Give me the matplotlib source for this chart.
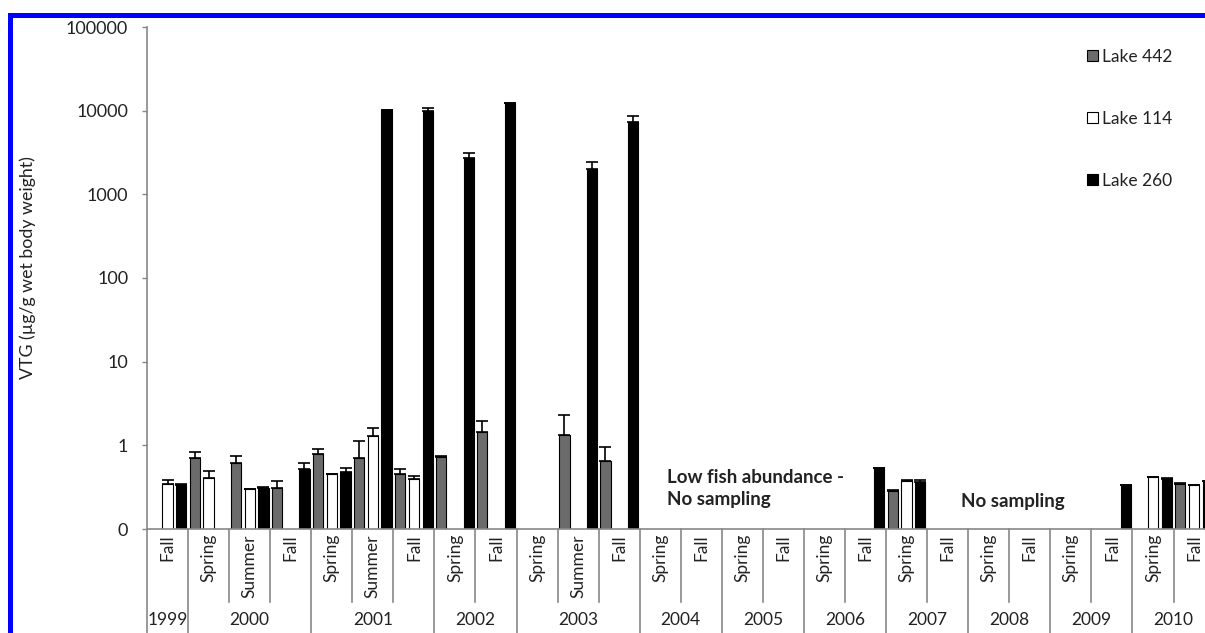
import numpy as np
import matplotlib
matplotlib.use("Agg")
import matplotlib.pyplot as plt
from matplotlib.patches import Rectangle
from matplotlib.lines import Line2D
from matplotlib.ticker import FixedLocator, FixedFormatter, NullLocator

plt.rcParams['font.family'] = ['Lato', 'DejaVu Sans']

nan = np.nan
years = ["1999", "2000", "2001", "2002", "2003", "2004", "2005",
         "2006", "2007", "2008", "2009", "2010"]
seasons_per_year = [["Fall"], ["Spring", "Summer", "Fall"], ["Spring", "Summer", "Fall"],
                    ["Spring", "Fall"], ["Spring", "Summer", "Fall"],
                    ["Spring", "Fall"], ["Spring", "Fall"], ["Spring", "Fall"],
                    ["Spring", "Fall"], ["Spring", "Fall"], ["Spring", "Fall"],
                    ["Spring", "Fall"]]
seasons = [s for grp in seasons_per_year for s in grp]

lake442 = [nan, 0.70, 0.61, 0.31, 0.79, 0.70, 0.45, 0.72, 1.45, nan, 1.33, 0.65,
           nan, nan, nan, nan, nan, nan, 0.284, nan, nan, nan, nan, nan, nan, 0.348]
lake442_err = [nan, 0.13, 0.135, 0.064, 0.11, 0.42, 0.07, 0.03, 0.50, nan, 1.0, 0.31,
               nan, nan, nan, nan, nan, nan, 0.005, nan, nan, nan, nan, nan, nan, 0.003]
lake114 = [0.345, 0.41, 0.298, nan, 0.45, 1.29, 0.40, nan, nan, nan, nan, nan,
           nan, nan, nan, nan, nan, nan, 0.377, nan, nan, nan, nan, nan, 0.415, 0.333]
lake114_err = [0.04, 0.09, 0.005, nan, 0.01, 0.33, 0.03, nan, nan, nan, nan, nan,
               nan, nan, nan, nan, nan, nan, 0.01, nan, nan, nan, nan, nan, 0.003, 0.003]
lake260 = [0.336, nan, 0.31, 0.517, 0.475, 10100, 9800, 2690, 12200, nan, 2000, 7350,
           nan, nan, nan, nan, nan, 0.53, 0.367, nan, nan, nan, nan, 0.336, 0.40, 0.374]
lake260_err = [0.01, nan, 0.005, 0.09, 0.055, 150, 1000, 390, 300, nan, 440, 1250,
               nan, nan, nan, nan, nan, 0.01, 0.015, nan, nan, nan, nan, 0.003, 0.003, 0.003]

series = [("Lake 442", lake442, lake442_err, "#6b6b6b"),
          ("Lake 114", lake114, lake114_err, "#ffffff"),
          ("Lake 260", lake260, lake260_err, "#000000")]

W, H = 1205, 633
fig = plt.figure(figsize=(W / 100, H / 100), dpi=100)
n = len(seasons)
cat_w = 41.06
ax_left, ax_bottom, ax_top = 147, 529, 27
ax = fig.add_axes([ax_left / W, (H - ax_bottom) / H, n * cat_w / W, (ax_bottom - ax_top) / H])

x = np.arange(n)
offsets = [-0.335, 0.0, 0.335]
bw = 0.25
handles = []
for (name, vals, errs, col), off in zip(series, offsets):
    v = np.array(vals, dtype=float)
    e = np.array(errs, dtype=float)
    b = ax.bar(x + off, v, width=bw, color=col, edgecolor="black", linewidth=0.8,
               label=name, zorder=2)
    handles.append(b)
    m = ~np.isnan(v)
    ax.errorbar(x[m] + off, v[m], yerr=[np.zeros(m.sum()), e[m]], fmt="none",
                ecolor="black", elinewidth=1.2, capsize=4, capthick=1.2, zorder=3)

ax.set_yscale("log")
ax.set_ylim(0.1, 100000)
ax.set_xlim(-0.5, n - 0.5)
yt = [0.1, 1, 10, 100, 1000, 10000, 100000]
ax.yaxis.set_major_locator(FixedLocator(yt))
ax.yaxis.set_major_formatter(FixedFormatter(["0", "1", "10", "100", "1000", "10000", "100000"]))
ax.yaxis.set_minor_locator(NullLocator())
ax.tick_params(axis="y", length=3.5, color="#888888", width=1, labelsize=13, pad=10,
               labelcolor="#222222")
ax.set_xticks([])
for s in ["top", "right"]:
    ax.spines[s].set_visible(False)
for s in ["left", "bottom"]:
    ax.spines[s].set_color("#888888")
    ax.spines[s].set_linewidth(1.2)

ax.set_ylabel("VTG (µg/g wet body weight)", fontsize=12.8, color="#222222")
ax.yaxis.set_label_coords(-(ax_left - 36) / (n * cat_w), 0.52)

# category labels and dividers
trans = ax.get_xaxis_transform()
axh = ax_bottom - ax_top
def ypix(p):
    return (ax_bottom - p) / axh

for i, s in enumerate(seasons):
    ax.text(i, ypix(534), s, rotation=90, ha="center", va="top", fontsize=12.5,
            color="#222222", transform=trans, clip_on=False)

idx = 0
for yr, grp in zip(years, seasons_per_year):
    start = idx
    end = idx + len(grp)
    ax.add_line(Line2D([start - 0.5, start - 0.5], [0, ypix(640)], transform=trans,
                       color="#888888", lw=1.2, clip_on=False))
    for k in range(start + 1, end):
        ax.add_line(Line2D([k - 0.5, k - 0.5], [0, ypix(602)], transform=trans,
                           color="#888888", lw=1.2, clip_on=False))
    ax.text((start + end - 1) / 2, ypix(620), yr, ha="center", va="center",
            fontsize=12.5, color="#222222", transform=trans, clip_on=False)
    idx = end
ax.add_line(Line2D([n - 0.5, n - 0.5], [0, ypix(640)], transform=trans,
                   color="#888888", lw=1.2, clip_on=False))

# annotations
fig.text(667 / W, 1 - 469 / H, "Low fish abundance -\nNo sampling", ha="left", va="top",
         fontsize=13.5, fontweight="bold", color="#222222", linespacing=1.35)
fig.text(961 / W, 1 - 502 / H, "No sampling", ha="left", va="center",
         fontsize=13.5, fontweight="bold", color="#222222")

# legend
fig.legend(handles=handles, loc="upper right", bbox_to_anchor=(1188 / W, 1 - 33 / H),
           frameon=False, fontsize=12.5, handlelength=0.6, handleheight=0.6,
           handletextpad=0.25, labelspacing=2.65, labelcolor="#222222")

# blue frame
fig.patches.append(Rectangle((9.5 / W, -0.05), 2.0, 1 - 14.5 / H + 0.05,
                             transform=fig.transFigure, fill=False,
                             edgecolor="#0000ff", linewidth=3.6, zorder=10))

fig.savefig("out.png", dpi=100)
